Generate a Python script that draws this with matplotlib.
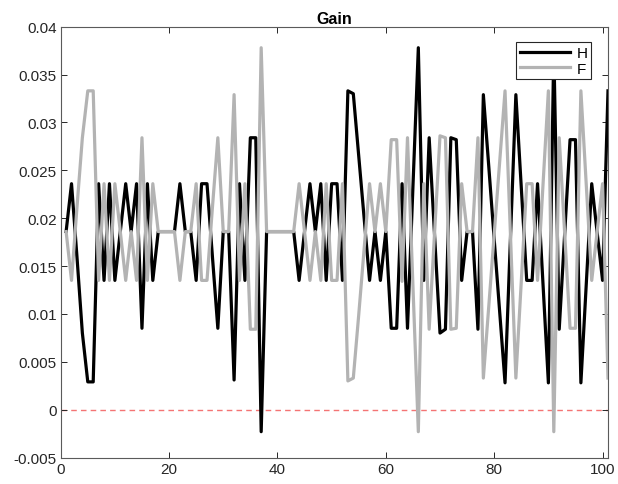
import matplotlib
matplotlib.use("Agg")
import matplotlib.pyplot as plt
import numpy as np

plt.rcParams['font.family'] = ['Liberation Sans', 'DejaVu Sans']

# gain values, sample index 1..101
gain_H = [0.0186, 0.0236, 0.0160, 0.0080, 0.0029, 0.0029, 0.0236, 0.0135, 0.0236, 0.0135,
          0.0186, 0.0236, 0.0186, 0.0236, 0.0085, 0.0236, 0.0135, 0.0186, 0.0186, 0.0186,
          0.0186, 0.0236, 0.0186, 0.0186, 0.0135, 0.0236, 0.0236, 0.0160, 0.0085, 0.0186,
          0.0186, 0.0031, 0.0236, 0.0135, 0.0284, 0.0284, -0.0023, 0.0186, 0.0186, 0.0186,
          0.0186, 0.0186, 0.0186, 0.0135, 0.0186, 0.0236, 0.0186, 0.0236, 0.0135, 0.0236,
          0.0236, 0.0135, 0.0333, 0.0330, 0.0265, 0.0200, 0.0135, 0.0186, 0.0135, 0.0186,
          0.0085, 0.0085, 0.0236, 0.0085, 0.0232, 0.0378, 0.0135, 0.0284, 0.0182, 0.0080,
          0.0084, 0.0284, 0.0282, 0.0135, 0.0186, 0.0186, 0.0084, 0.0329, 0.0254, 0.0178,
          0.0103, 0.0028, 0.0179, 0.0329, 0.0232, 0.0135, 0.0135, 0.0236, 0.0132, 0.0028,
          0.0378, 0.0084, 0.0183, 0.0282, 0.0282, 0.0028, 0.0132, 0.0236, 0.0185, 0.0135,
          0.0333]
gain_F = [0.0186, 0.0135, 0.0211, 0.0284, 0.0333, 0.0333, 0.0135, 0.0236, 0.0135, 0.0236,
          0.0186, 0.0135, 0.0186, 0.0135, 0.0284, 0.0135, 0.0236, 0.0186, 0.0186, 0.0186,
          0.0186, 0.0135, 0.0186, 0.0186, 0.0236, 0.0135, 0.0135, 0.0211, 0.0284, 0.0186,
          0.0186, 0.0329, 0.0135, 0.0236, 0.0084, 0.0084, 0.0378, 0.0186, 0.0186, 0.0186,
          0.0186, 0.0186, 0.0186, 0.0236, 0.0186, 0.0135, 0.0186, 0.0135, 0.0236, 0.0135,
          0.0135, 0.0236, 0.0030, 0.0033, 0.0099, 0.0168, 0.0236, 0.0186, 0.0236, 0.0186,
          0.0282, 0.0282, 0.0134, 0.0284, 0.0130, -0.0023, 0.0236, 0.0084, 0.0185, 0.0286,
          0.0284, 0.0084, 0.0085, 0.0236, 0.0186, 0.0186, 0.0284, 0.0033, 0.0108, 0.0183,
          0.0258, 0.0333, 0.0183, 0.0033, 0.0134, 0.0236, 0.0236, 0.0135, 0.0234, 0.0333,
          -0.0023, 0.0284, 0.0185, 0.0085, 0.0085, 0.0333, 0.0234, 0.0135, 0.0186, 0.0236,
          0.0033]
steps = np.arange(1, len(gain_H) + 1)

x_ticks = [0, 20, 40, 60, 80, 100]
y_ticks = [-0.005, 0, 0.005, 0.01, 0.015, 0.02, 0.025, 0.03, 0.035, 0.04]
y_labels = ['-0.005', '0', '0.005', '0.01', '0.015', '0.02', '0.025', '0.03', '0.035', '0.04']

fig = plt.figure(figsize=(6.18, 4.85), dpi=100)
ax = fig.add_axes([0.0982, 0.0546, 0.8856, 0.8883])

# zero reference
ax.axhline(0, color='#f47474', linestyle='--', linewidth=1.0, dashes=(4, 3), zorder=1)

ax.plot(steps, gain_H, color='black', linewidth=2.3, label='H', zorder=2)
ax.plot(steps, gain_F, color='#b3b3b3', linewidth=2.3, label='F', zorder=3)

ax.set_xlim(0, 101)
ax.set_ylim(-0.005, 0.04)
ax.set_xticks(x_ticks)
ax.set_yticks(y_ticks)
ax.set_yticklabels(y_labels)
ax.tick_params(direction='in', top=True, right=True, length=4, width=0.7,
               colors='#262626', labelsize=11, pad=3)
for sp in ax.spines.values():
    sp.set_color('#5a5a5a')
    sp.set_linewidth(0.8)

ax.set_title('Gain', fontsize=11.5, fontweight='bold', color='black', pad=3)

leg = ax.legend(loc='upper right', bbox_to_anchor=(0.9695, 0.9638), borderaxespad=0,
                fancybox=False, framealpha=1, edgecolor='#262626', fontsize=11,
                handlelength=3.3, handletextpad=0.4, borderpad=0.25, labelspacing=0.1)
leg.get_frame().set_linewidth(0.8)
leg.set_zorder(10)

fig.savefig('out.png', dpi=100)
